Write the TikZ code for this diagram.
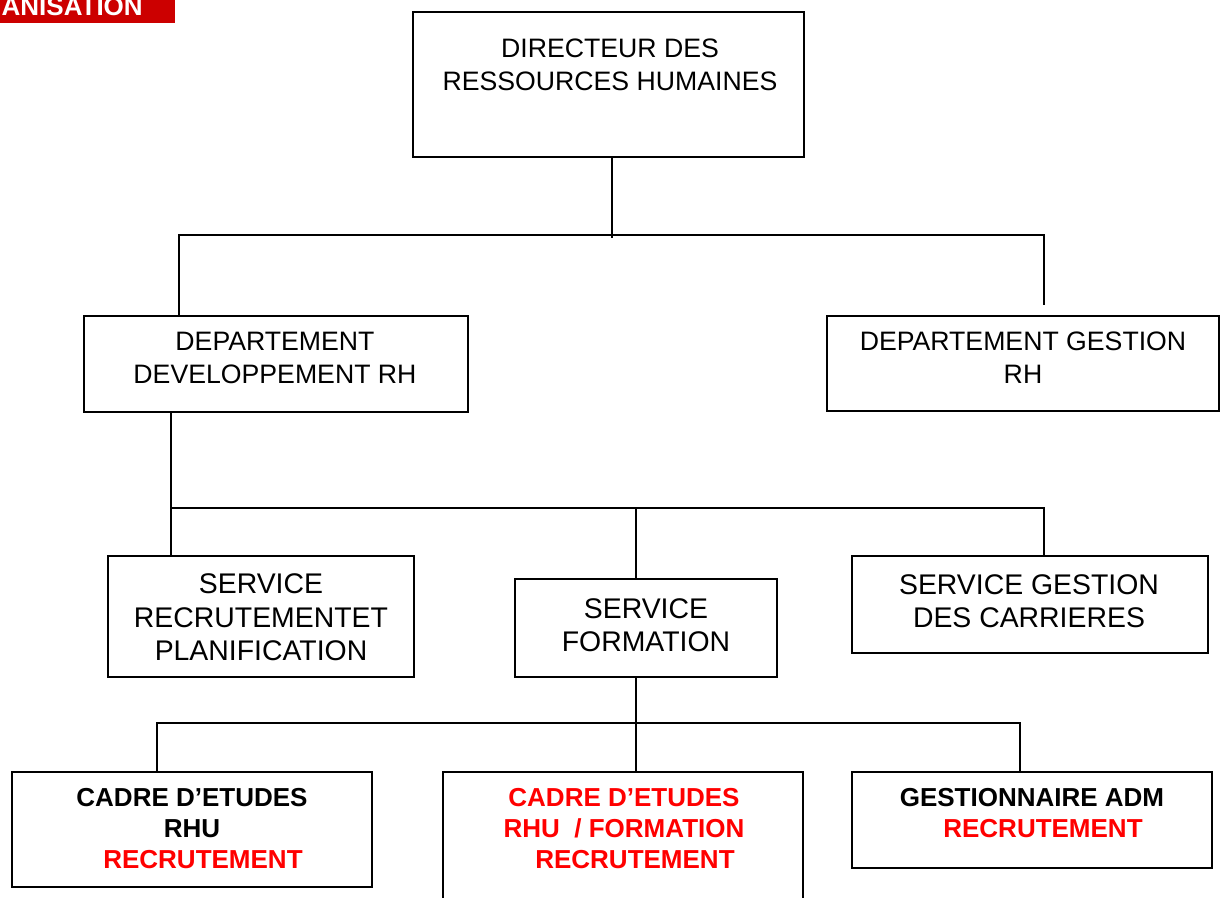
\documentclass[tikz,border=0pt]{standalone}
\usepackage{fontspec}
\setmainfont{Liberation Sans}
\definecolor{rouge}{HTML}{FF0000}
\definecolor{bandeau}{HTML}{CC0000}

\begin{document}
\begin{tikzpicture}[x=0.75pt, y=-0.75pt,
    boite/.style 2 args={draw, line width=1.2pt, minimum width=#1*0.75pt, minimum height=#2*0.75pt, inner sep=0pt},
    haut/.style={align=center, inner sep=0pt, font=\fontsize{20}{24.75}\selectfont},
    serv/.style={align=center, inner sep=0pt, font=\fontsize{21.3}{25}\selectfont},
    cadre/.style={align=center, inner sep=0pt, font=\bfseries\fontsize{19.5}{23.25}\selectfont},
    lien/.style={line width=1pt}]
  \useasboundingbox (0,0) rectangle (1222,897);
  \clip (0,0) rectangle (1222,897);

  % bandeau en haut a gauche
  \fill[bandeau] (-5,-5) rectangle (175,23);
  \node[anchor=base east, text=white, inner sep=0pt, font=\bfseries\fontsize{19.5}{20}\selectfont] (titre) at (143,15) {ANISATION};

  % boites
  \node[boite={391}{145}] (dir) at (608.5,84.5) {};
  \node[boite={384}{96}] (devRH) at (276,364) {};
  \node[boite={392}{95}] (gesRH) at (1023,363.5) {};
  \node[boite={306}{121}] (recr) at (261,616.5) {};
  \node[boite={262}{98}] (form) at (646,628) {};
  \node[boite={356}{97}] (carr) at (1030,604.5) {};
  \node[boite={360}{115}] (cad1) at (192,829.5) {};
  \node[boite={360}{168}] (cad2) at (623,856) {};
  \node[boite={360}{96}] (cad3) at (1032,820) {};

  % textes
  \node[haut] (dirT) at (610,65) {DIRECTEUR DES\\RESSOURCES HUMAINES};
  \node[haut] (devRHT) at (275,358) {DEPARTEMENT\\DEVELOPPEMENT RH};
  \node[haut] (gesRHT) at (1023,358) {DEPARTEMENT GESTION\\RH};
  \node[serv] (recrT) at (261,617.5) {SERVICE\\RECRUTEMENTET\\PLANIFICATION};
  \node[serv] (formT) at (646,625) {SERVICE\\FORMATION};
  \node[serv] (carrT) at (1029,601.5) {SERVICE GESTION\\DES CARRIERES};
  \node[cadre] (cad1T) at (192,829) {CADRE D’ETUDES\\RHU\\\hspace*{16.5pt}\textcolor{rouge}{RECRUTEMENT}};
  \node[cadre, text=rouge] (cad2T) at (624,829) {CADRE D’ETUDES\\RHU\ \ / FORMATION\\\hspace*{16.5pt}RECRUTEMENT};
  \node[cadre] (cad3T) at (1032,813.5) {GESTIONNAIRE ADM\\\hspace*{16.5pt}\textcolor{rouge}{RECRUTEMENT}};

  % liaisons
  \coordinate (b1G) at (179,235);
  \coordinate (b1D) at (1044,235);
  \coordinate (b1F) at (1044,305);
  \coordinate (b1M) at (612,238);
  \draw[lien] (dir.south -| b1M) -- (b1M);
  \draw[lien] (devRH.north -| b1G) -- (b1G) -- (b1D) -- (b1F);

  \coordinate (b2G) at (171,508);
  \coordinate (b2D) at (1044,508);
  \coordinate (b2M) at (636,508);
  \draw[lien] (devRH.south -| b2G) -- (recr.north -| b2G);
  \draw[lien] (b2G) -- (b2D) -- (carr.north -| b2D);
  \draw[lien] (b2M) -- (form.north -| b2M);

  \coordinate (b3G) at (157,723);
  \coordinate (b3D) at (1020,723);
  \coordinate (b3M) at (636,723);
  \draw[lien] (form.south -| b3M) -- (cad2.north -| b3M);
  \draw[lien] (cad1.north -| b3G) -- (b3G) -- (b3D) -- (cad3.north -| b3D);
\end{tikzpicture}
\end{document}
